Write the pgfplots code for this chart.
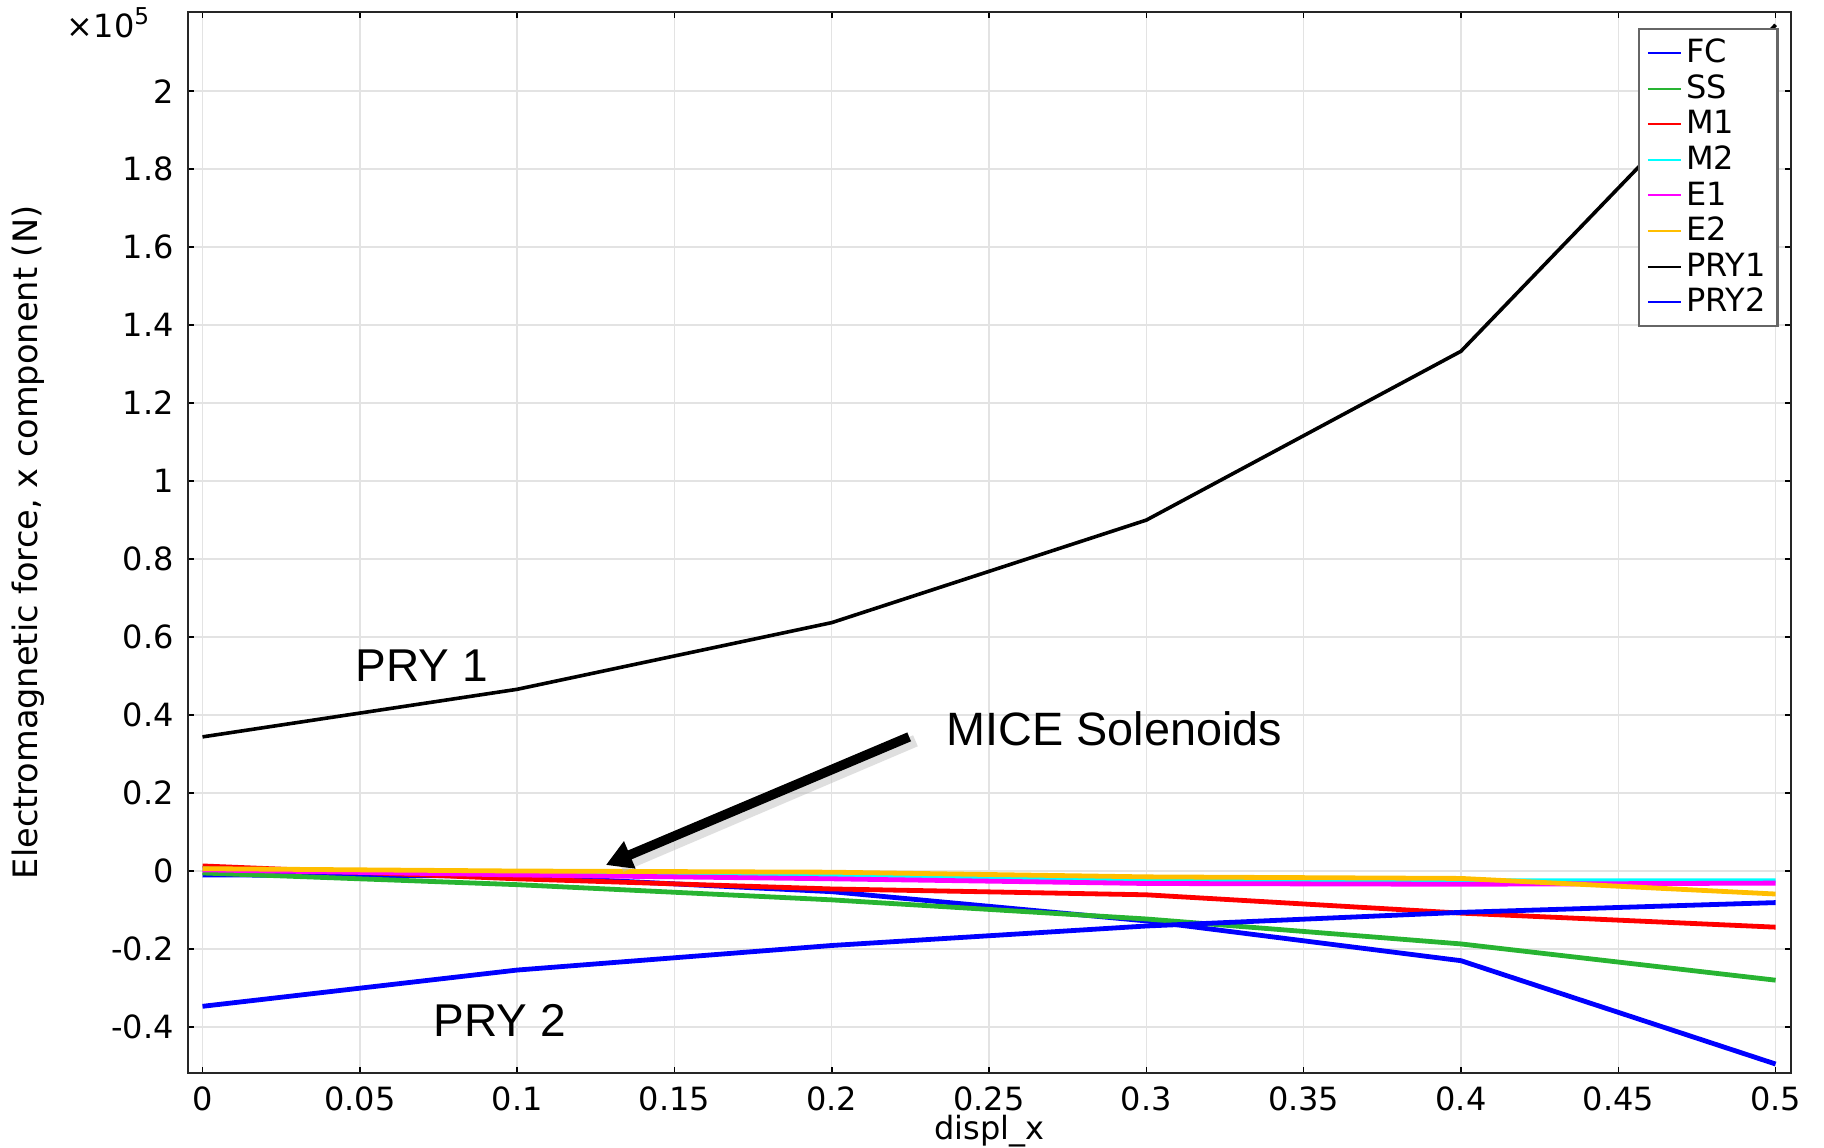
\documentclass[border=0pt]{standalone}
\usepackage{fontspec}
\setmainfont{DejaVu Sans}
\newfontfamily\arialfont{Liberation Sans}
\usepackage{pgfplots}
\pgfplotsset{compat=1.18}
\usetikzlibrary{arrows.meta}

\definecolor{fcblue}{RGB}{0,0,255}
\definecolor{ssgreen}{RGB}{40,180,50}
\definecolor{mred}{RGB}{255,0,0}
\definecolor{mcyan}{RGB}{0,255,255}
\definecolor{emag}{RGB}{255,0,255}
\definecolor{eyel}{RGB}{255,190,0}

\begin{document}
\begin{tikzpicture}
\path[use as bounding box] (0,0) rectangle (456pt,287pt);
% y values in units of 1e5 N
\begin{axis}[
  at={(46.93pt,18.75pt)}, anchor=south west,
  scale only axis, width=400.75pt, height=265.25pt,
  clip=false,
  xmin=-0.0047, xmax=0.5048,
  ymin=-0.518, ymax=2.203,
  xtick={0,0.05,0.1,0.15,0.2,0.25,0.3,0.35,0.4,0.45,0.5},
  xticklabels={0,0.05,0.1,0.15,0.2,0.25,0.3,0.35,0.4,0.45,0.5},
  ytick={-0.4,-0.2,0,0.2,0.4,0.6,0.8,1,1.2,1.4,1.6,1.8,2},
  yticklabels={-0.4,-0.2,0,0.2,0.4,0.6,0.8,1,1.2,1.4,1.6,1.8,2},
  scaled x ticks=false,
  scaled y ticks=false,
  font=\fontsize{8}{9.6}\selectfont,
  tick label style={font=\fontsize{8}{9.6}\selectfont},
  tick align=inside,
  major tick length=1.5pt,
  tick style={black, line width=0.4pt},
  axis line style={black!85, line width=0.5pt},
  grid=major,
  grid style={gray!22, line width=0.35pt},
  xlabel={displ\textunderscore x},
  ylabel={Electromagnetic force, x component (N)},
  xlabel style={at={(axis description cs:0.5,-0.0631)}, anchor=base, inner sep=0pt},
  ylabel style={at={(axis description cs:-0.0993,0.5)}, anchor=center, inner sep=0pt,
    font=\fontsize{8.4}{10}\selectfont},
  legend cell align=left,
  legend image code/.code={\draw[#1, line width=0.5pt] (0pt,0pt) -- (8.3pt,0pt);},
  legend style={at={(0.9925,0.985)}, anchor=north east, draw=black!60, line width=0.6pt,
    fill=white, inner xsep=2pt, inner ysep=1.5pt, font=\fontsize{8}{9.6}\selectfont,
    nodes={inner sep=1pt, text height=5.9pt, text depth=1pt}},
  every axis plot/.append style={line width=1.2pt},
]
% FC
\addplot[fcblue] coordinates {(0,-0.010) (0.1,-0.013) (0.2,-0.053) (0.3,-0.128) (0.4,-0.230) (0.5,-0.495)};
% SS
\addplot[ssgreen] coordinates {(0,-0.005) (0.1,-0.035) (0.2,-0.074) (0.3,-0.123) (0.4,-0.187) (0.5,-0.280)};
% M1
\addplot[mred] coordinates {(0,0.013) (0.1,-0.020) (0.2,-0.046) (0.3,-0.061) (0.4,-0.108) (0.5,-0.144)};
% M2
\addplot[mcyan] coordinates {(0,0.005) (0.1,-0.005) (0.2,-0.010) (0.3,-0.025) (0.4,-0.025) (0.5,-0.025)};
% E1
\addplot[emag] coordinates {(0,0.003) (0.1,-0.010) (0.2,-0.020) (0.3,-0.032) (0.4,-0.034) (0.5,-0.031)};
% E2
\addplot[eyel] coordinates {(0,0.006) (0.1,0) (0.2,-0.003) (0.3,-0.015) (0.4,-0.019) (0.5,-0.059)};
% PRY1
\addplot[black, line width=0.9pt] coordinates {(0,0.344) (0.1,0.466) (0.2,0.637) (0.3,0.900) (0.4,1.333) (0.5,2.170)};
% PRY2
\addplot[fcblue] coordinates {(0,-0.347) (0.1,-0.254) (0.2,-0.191) (0.3,-0.141) (0.4,-0.106) (0.5,-0.081)};
\legend{FC,SS,M1,M2,E1,E2,PRY1,PRY2}

\node[anchor=base east, inner sep=0pt] at (axis description cs:-0.0235,0.9755) {×10\raisebox{3.4pt}{\fontsize{5.8}{6}\selectfont 5}};
\node[anchor=base west, inner sep=0pt, font=\arialfont\fontsize{11.5}{14}\selectfont] at (axis cs:0.0485,0.485) {PRY 1};
\node[anchor=base west, inner sep=0pt, font=\arialfont\fontsize{11.5}{14}\selectfont] at (axis cs:0.0733,-0.425) {PRY 2};
\node[anchor=base west, inner sep=0pt, font=\arialfont\fontsize{11.7}{14}\selectfont] at (axis cs:0.2363,0.321) {MICE Solenoids};
\draw[gray!50, opacity=0.5, line width=3pt] (axis cs:0.2266,0.334) -- (axis cs:0.1330,0.012);
\draw[black, line width=2.4pt, -{Triangle[length=6.5pt,width=7pt]}] (axis cs:0.2246,0.344) -- (axis cs:0.1282,0.0154);
\end{axis}
\end{tikzpicture}
\end{document}
